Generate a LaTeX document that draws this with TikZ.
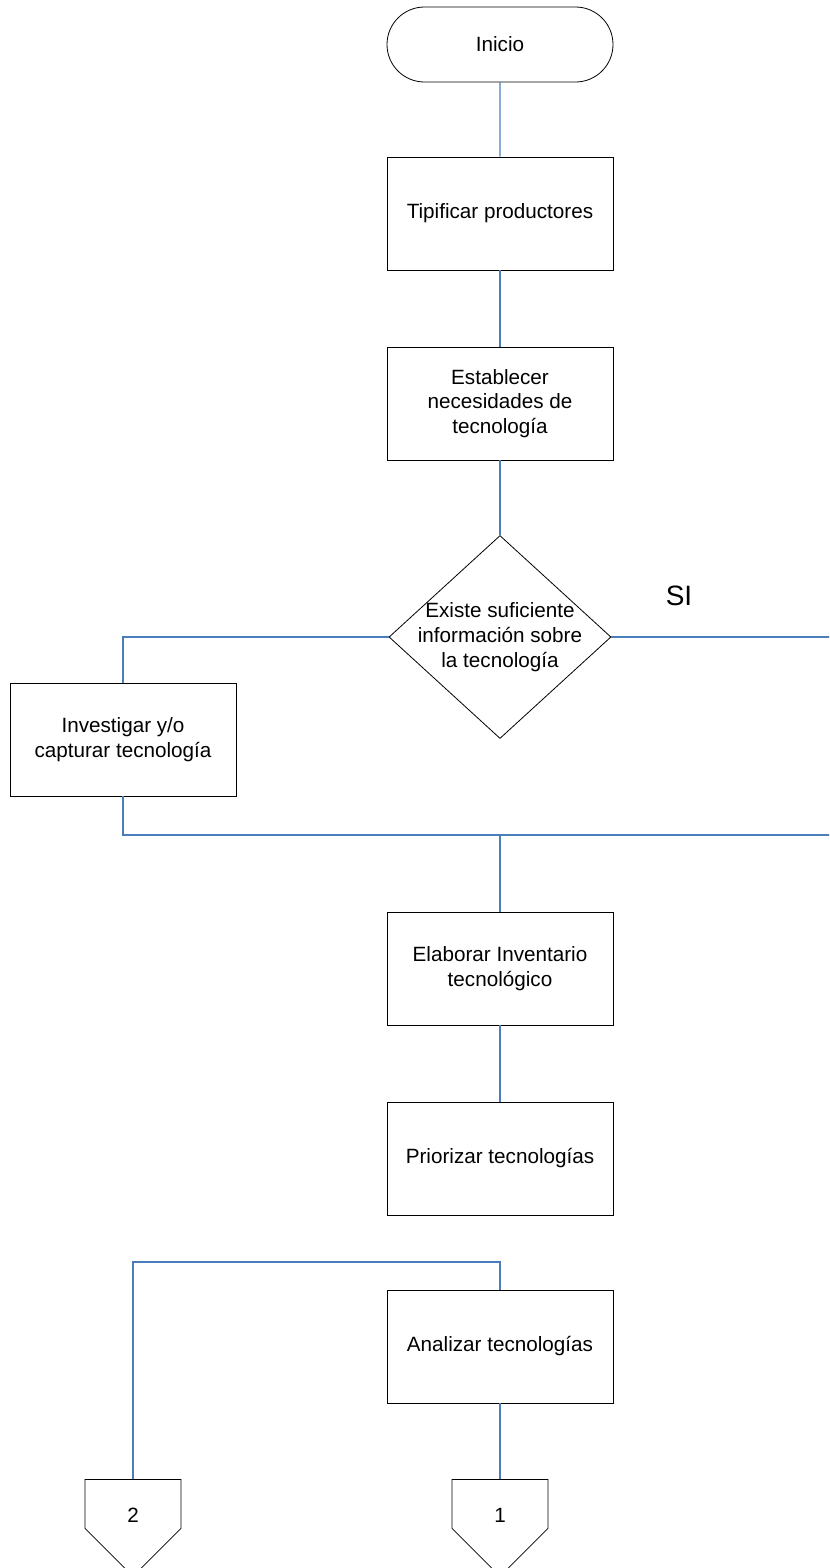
\documentclass[tikz,border=0pt]{standalone}
\usepackage{fontspec}
\setmainfont{Liberation Sans}
\usepackage{tikz}
\usetikzlibrary{shapes.geometric,shapes.misc,shapes.symbols}

\begin{document}
\begin{tikzpicture}[x=0.75pt,y=-0.75pt,
    every node/.style={font=\fontsize{15.5}{18.5}\selectfont},
    proc/.style={draw=black,line width=0.6pt,minimum width=169.5pt,minimum height=84.75pt,align=center,inner sep=0pt},
    term/.style={draw=black,line width=0.6pt,rounded rectangle,minimum width=169.5pt,minimum height=56.25pt,inner sep=0pt},
    decision/.style={draw=black,line width=0.6pt,diamond,minimum width=166.5pt,minimum height=152.25pt,inner sep=0pt},
    offpage/.style={draw=black,line width=0.6pt,signal,signal to=south,signal pointer angle=90,minimum width=72pt,minimum height=36.75pt,inner sep=0pt},
    flow/.style={draw={rgb,255:red,74;green,126;blue,187},line width=1.1pt}]
    \clip (0,0) rectangle (829,1568);

    \node[term] (inicio) at (500,44.5) {Inicio};
    \node[proc] (tipificar) at (500,213.5) {Tipificar productores};
    \node[proc] (establecer) at (500,403.5) {Establecer\\necesidades de\\tecnología};
    \node[decision] (existe) at (500,637) {};
    \node[align=center] (existetxt) at (500,637) {Existe suficiente\\información sobre\\la tecnología};
    \node[font=\fontsize{21}{24}\selectfont] (si) at (679,596) {SI};
    \node[proc] (investigar) at (123,739.5) {Investigar y/o\\capturar tecnología};
    \node[proc] (elaborar) at (500,968.5) {Elaborar Inventario\\tecnológico};
    \node[proc] (priorizar) at (500,1158.5) {Priorizar tecnologías};
    \node[proc] (analizar) at (500,1346.5) {Analizar tecnologías};
    \node[offpage,anchor=north] (con1) at (500,1479) {};
    \node (con1txt) at (500,1515) {1};
    \node[offpage,anchor=north] (con2) at (133,1479) {};
    \node (con2txt) at (133,1515) {2};

    \coordinate (sider) at (840,637);
    \coordinate (joinr) at (840,835);
    \coordinate (joinc) at (500,835);
    \coordinate (topa) at (500,1262);

    \draw[flow] (inicio) -- (tipificar);
    \draw[flow] (tipificar) -- (establecer);
    \draw[flow] (establecer) -- (existe);
    \draw[flow] (existe.west) -| (investigar.north);
    \draw[flow] (existe.east) -- (sider);
    \draw[flow] (investigar.south) |- (joinr);
    \draw[flow] (joinc) -- (elaborar);
    \draw[flow] (elaborar) -- (priorizar);
    \draw[flow] (analizar.north) -- (topa) -| (con2.north);
    \draw[flow] (analizar) -- (con1);
\end{tikzpicture}
\end{document}
